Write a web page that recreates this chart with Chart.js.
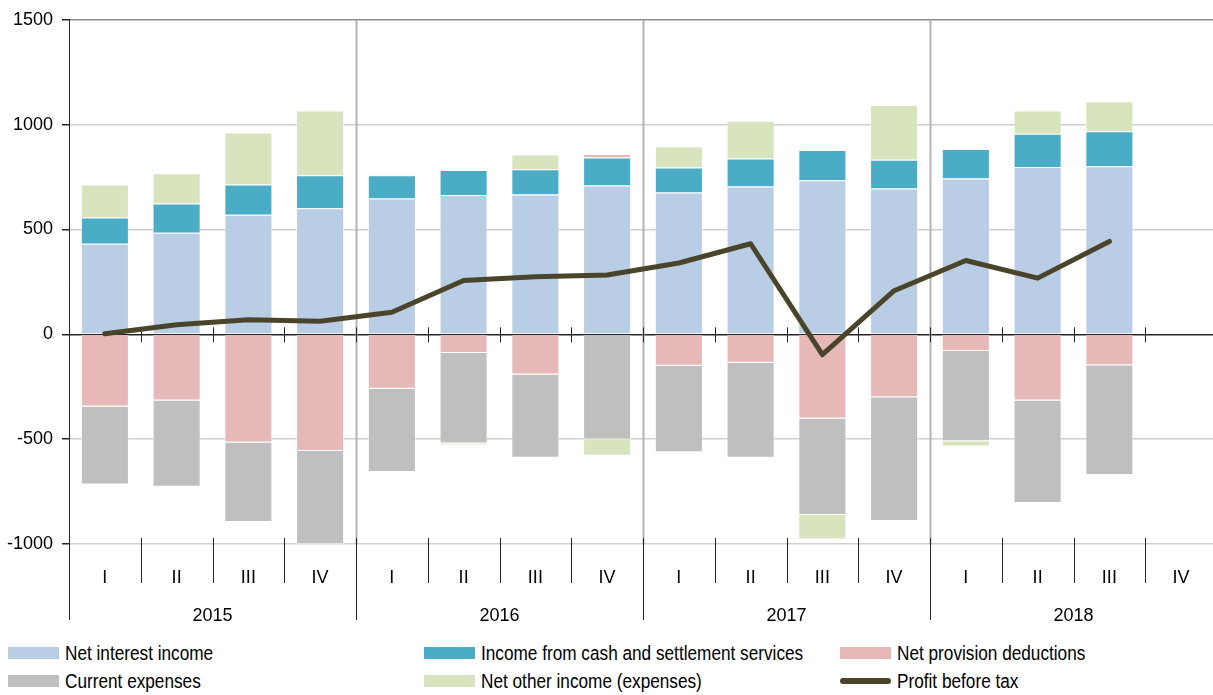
<!DOCTYPE html>
<html>
<head>
<meta charset="utf-8">
<script src="https://cdn.jsdelivr.net/npm/chart.js@4.4.1/dist/chart.umd.min.js"></script>
<style>
  body { margin: 0; overflow: hidden; background: #fff; width: 1213px; height: 695px; position: relative; }
  #chart { position: absolute; left: 0; top: 0; }
  .item { position: absolute; display: flex; align-items: center; height: 20px;
          font-family: 'Liberation Sans', Arial, sans-serif; font-size: 20px; color: #000; white-space: nowrap; }
  .item .txt { display: inline-block; transform: scaleX(0.86); transform-origin: left center; }
  .swatch { width: 51px; height: 12px; margin-right: 6px; flex: none; }
  .swatch.line { height: 6px; border-radius: 3px; }
</style>
</head>
<body>
<canvas id="chart" width="1222" height="632"></canvas>
<div id="legend"></div>
<script>
const quarters = ['I', 'II', 'III', 'IV'];
const years = ['2015', '2016', '2017', '2018'];
const labels = years.flatMap(() => quarters);

const netInterest    = [432, 484, 570, 601, 648, 664, 667, 710, 676, 705, 735, 695, 743, 798, 802, null];
const cashSettlement = [125, 140, 144, 158, 111, 120, 120, 133, 120, 134, 144, 138, 141, 159, 166, null];
const provisions     = [-344, -316, -516, -556, -259, -89, -192, 17, -150, -136, -402, -300, -79, -316, -148, null];
const expenses       = [-372, -411, -379, -444, -398, -432, -397, -500, -413, -453, -460, -590, -431, -489, -523, null];
const otherIncome    = [157, 144, 249, 308, 4, -9, 70, -79, 101, 179, -117, 261, -25, 111, 143, null];
const profit         = [3, 46, 70, 62, 105, 257, 275, 283, 340, 432, -97, 208, 352, 268, 443, null];

Chart.defaults.font.family = "'Liberation Sans', Arial, sans-serif";
Chart.defaults.font.size = 18;
Chart.defaults.color = '#000';

// quarter / year separators and the small ticks on the zero line
const separators = {
  id: 'separators',
  beforeDatasetsDraw(chart) {
    const { ctx, chartArea: a, scales: { x, y } } = chart;
    const step = x.getPixelForValue(1) - x.getPixelForValue(0);
    const y0 = y.getPixelForValue(0);
    ctx.save();
    for (let i = 0; i <= labels.length; i++) {
      const px = Math.round(x.getPixelForValue(i) - step / 2) + 0.5;
      const isYear = i % quarters.length === 0;
      if (isYear && i > 0) {
        ctx.strokeStyle = '#b4b4b4';
        ctx.lineWidth = 2;
        ctx.beginPath(); ctx.moveTo(px, a.top); ctx.lineTo(px, a.bottom); ctx.stroke();
      }
      ctx.strokeStyle = '#262626';
      ctx.lineWidth = 1;
      ctx.beginPath();
      ctx.moveTo(px, a.bottom - 6);
      ctx.lineTo(px, isYear ? 620 : 583);
      ctx.moveTo(px, y0 - 7);
      ctx.lineTo(px, y0 + 8);
      ctx.stroke();
    }
    ctx.restore();
  }
};

const bar = (label, data, color) => ({
  type: 'bar', label, data, backgroundColor: color,
  borderColor: 'rgba(255,255,255,0.45)', borderWidth: 1,
  barPercentage: 0.67, categoryPercentage: 1, order: 1
});

const chart = new Chart(document.getElementById('chart'), {
  data: {
    labels,
    datasets: [
      bar('Net interest income', netInterest, '#b9cde5'),
      bar('Income from cash and settlement services', cashSettlement, '#4bacc6'),
      bar('Net provision deductions', provisions, '#e6b9b8'),
      bar('Current expenses', expenses, '#bfbfbf'),
      bar('Net other income (expenses)', otherIncome, '#d7e4bd'),
      {
        type: 'line', label: 'Profit before tax', data: profit,
        borderColor: '#4a452a', backgroundColor: '#4a452a', borderWidth: 5,
        pointRadius: 0, tension: 0, stack: 'profit', order: 0,
        borderCapStyle: 'round', borderJoinStyle: 'round'
      }
    ]
  },
  options: {
    responsive: false,
    animation: false,
    layout: { padding: { top: 18, right: 5, left: 0, bottom: 0 } },
    plugins: { legend: { display: false }, tooltip: { enabled: false } },
    scales: {
      x: {
        type: 'category', stacked: true, offset: true,
        grid: { display: false }, border: { display: false },
        ticks: { autoSkip: false, maxRotation: 0, padding: 15 },
        afterFit: s => { s.height = 48; }
      },
      years: {
        type: 'category', position: 'bottom', labels: years, offset: true,
        grid: { display: false }, border: { display: false },
        ticks: { autoSkip: false, maxRotation: 0, padding: 5 },
        afterFit: s => { s.height = 40; }
      },
      y: {
        stacked: true, min: -1000, max: 1500,
        ticks: { stepSize: 500, padding: 9, callback: v => String(v) },
        border: { color: '#262626', width: 1 },
        grid: {
          tickLength: 7, tickColor: '#262626', lineWidth: 1.5,
          color: c => c.tick.value === 0 ? '#262626' : (c.tick.value === 1500 ? '#8c8c8c' : '#d0d0d0')
        },
        afterFit: s => { s.width = 69; }
      }
    }
  },
  plugins: [separators]
});

// legend laid out in three columns like the original
const legendPos = [[8, 643], [424, 643], [840, 643], [8, 671], [424, 671], [840, 671]];
const legend = document.getElementById('legend');
chart.data.datasets.forEach((ds, i) => {
  const item = document.createElement('div');
  item.className = 'item';
  item.style.left = legendPos[i][0] + 'px';
  item.style.top = legendPos[i][1] + 'px';
  const sw = document.createElement('span');
  sw.className = 'swatch' + (ds.type === 'line' ? ' line' : '');
  sw.style.background = ds.type === 'line' ? ds.borderColor : ds.backgroundColor;
  const txt = document.createElement('span');
  txt.className = 'txt';
  txt.textContent = ds.label;
  item.appendChild(sw);
  item.appendChild(txt);
  legend.appendChild(item);
});
</script>
</body>
</html>
